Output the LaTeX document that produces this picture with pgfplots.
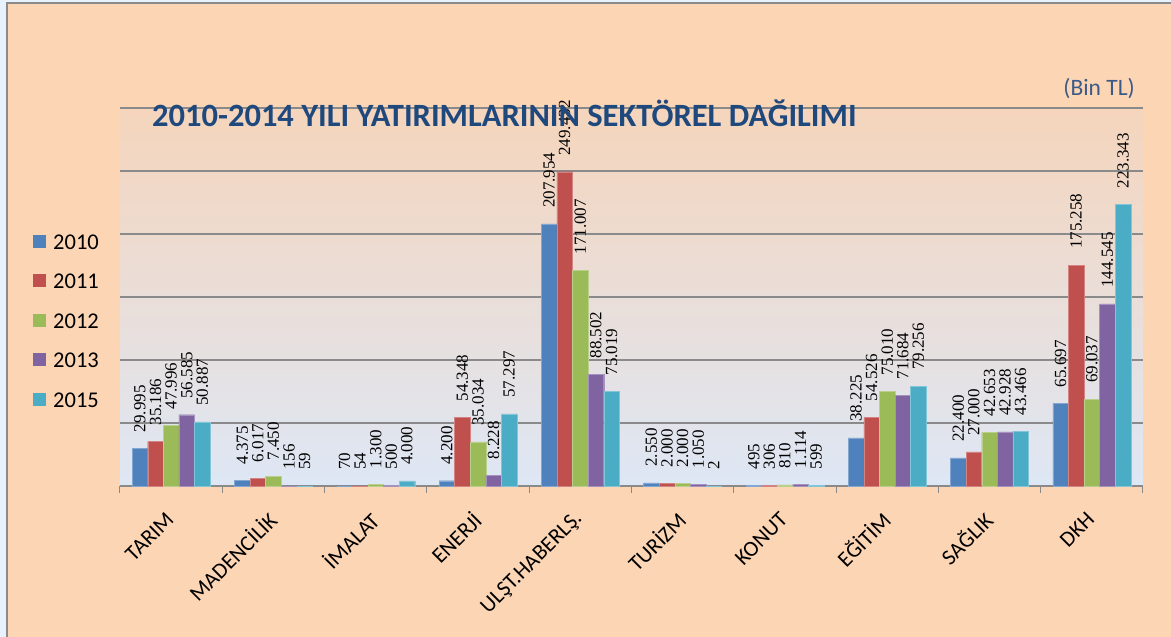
\documentclass[border=0pt]{standalone}
\usepackage{pgfplots}
\pgfplotsset{compat=1.18}
\usepackage{pgfplotstable}
\usepackage{fontspec}
\setmainfont{Carlito}
\newfontfamily\lserif{Liberation Serif}
\definecolor{cblue}{RGB}{79,129,189}
\definecolor{cred}{RGB}{192,80,77}
\definecolor{cgreen}{RGB}{155,187,89}
\definecolor{cpurple}{RGB}{128,100,162}
\definecolor{ccyan}{RGB}{75,172,198}
\definecolor{peach}{RGB}{252,213,181}
\definecolor{leftblue}{RGB}{232,242,252}
\definecolor{titleblue}{RGB}{31,73,125}
\definecolor{unitblue}{RGB}{60,90,135}
\definecolor{gridgray}{RGB}{138,138,138}
\definecolor{bgtop}{RGB}{245,213,188}
\definecolor{bgmid}{RGB}{196,212,236}
\definecolor{bgbot}{RGB}{222,231,245}

\pgfplotstableread{
x y2010 y2011 y2012 y2013 y2015
0 29995 35186 47996 56585 50887
1 4375 6017 7450 156 59
2 70 54 1300 500 4000
3 4200 54348 35034 8228 57297
4 207954 249432 171007 88502 75019
5 2550 2000 2000 1050 2
6 495 306 810 1114 599
7 38225 54526 75010 71684 79256
8 22400 27000 42653 42928 43466
9 65697 175258 69037 144545 223343
}\datatable

\begin{document}
\begin{tikzpicture}
\fill[leftblue] (0pt,0pt) rectangle (1171pt,637pt);
\fill[peach] (7pt,0pt) rectangle (1171pt,634pt);
\draw[gridgray, line width=2pt] (7pt,0pt) -- (7pt,634pt) -- (1171pt,634pt);
\begin{axis}[
  at={(120pt,151pt)}, anchor=south west,
  scale only axis, width=1023pt, height=378pt,
  axis background/.style={top color=bgtop, middle color=bgmid, bottom color=bgbot},
  ybar=0pt, bar width=15.6pt,
  xmin=-0.5, xmax=9.5, ymin=0, ymax=300000,
  clip=false,
  axis x line*=bottom, axis y line*=left,
  x axis line style={draw=gridgray, line width=1pt, -},
  y axis line style={draw=none},
  xtick={0,...,9},
  xticklabels={TARIM, MADENCİLİK, İMALAT, ENERJİ, ULŞT.HABERLŞ., TURİZM, KONUT, EĞİTİM, SAĞLIK, DKH},
  major tick length=0pt,
  tick align=outside,
  tick style={draw=gridgray, line width=1pt},
  extra x ticks={-0.5,0.5,1.5,2.5,3.5,4.5,5.5,6.5,7.5,8.5,9.5},
  extra x tick labels={},
  extra x tick style={major tick length=7pt, grid=none},
  ytick={0,50000,100000,150000,200000,250000,300000},
  yticklabels={},
  scaled y ticks=false,
  ymajorgrids,
  major grid style={draw=gridgray, line width=1.2pt},
  xticklabel style={font=\fontsize{22}{26}\selectfont, text=black, inner sep=0pt, xshift=-1pt, yshift=-30pt, rotate=45, anchor=east},
  nodes near coords,
  every node near coord/.append style={font=\lserif\fontsize{17}{20}\selectfont, text=black, inner sep=0pt, yshift=16pt, rotate=90, anchor=west},
  /pgf/number format/fixed,
  /pgf/number format/precision=0,
  /pgf/number format/1000 sep={.},
  /pgf/number format/assume math mode=true,
  legend style={at={(-0.085,0.669)}, anchor=north west, draw=none, fill=none, inner sep=0pt,
    row sep=23.5pt, column sep=7pt, font=\fontsize{22.5}{26}\selectfont,
    nodes={inner sep=0pt, text height=16pt, text depth=0pt}},
  legend cell align=left,
  legend image code/.code={\fill[#1,draw=none] (0pt,-6.5pt) rectangle (13pt,6.5pt);},
]
\addplot[fill=cblue, draw=cblue!70!white, line width=0.4pt] table[x=x, y=y2010] \datatable;
\addplot[fill=cred, draw=cred!70!white, line width=0.4pt] table[x=x, y=y2011] \datatable;
\addplot[fill=cgreen, draw=cgreen!70!white, line width=0.4pt] table[x=x, y=y2012] \datatable;
\addplot[fill=cpurple, draw=cpurple!70!white, line width=0.4pt] table[x=x, y=y2013] \datatable;
\addplot[fill=ccyan, draw=ccyan!70!white, line width=0.4pt] table[x=x, y=y2015] \datatable;
\legend{2010,2011,2012,2013,2015}
\end{axis}
\node[anchor=base west, inner sep=0pt, text=titleblue, font=\fontsize{32.5}{38}\selectfont\bfseries] at (152pt,510pt) {2010-2014 YILI YATIRIMLARININ SEKTÖREL DAĞILIMI};
\node[anchor=base east, inner sep=0pt, text=unitblue, font=\fontsize{23.5}{28}\selectfont] at (1135pt,541pt) {(Bin TL)};
\pgfresetboundingbox
\path[use as bounding box] (0pt,0pt) rectangle (1171pt,637pt);
\end{tikzpicture}
\end{document}
